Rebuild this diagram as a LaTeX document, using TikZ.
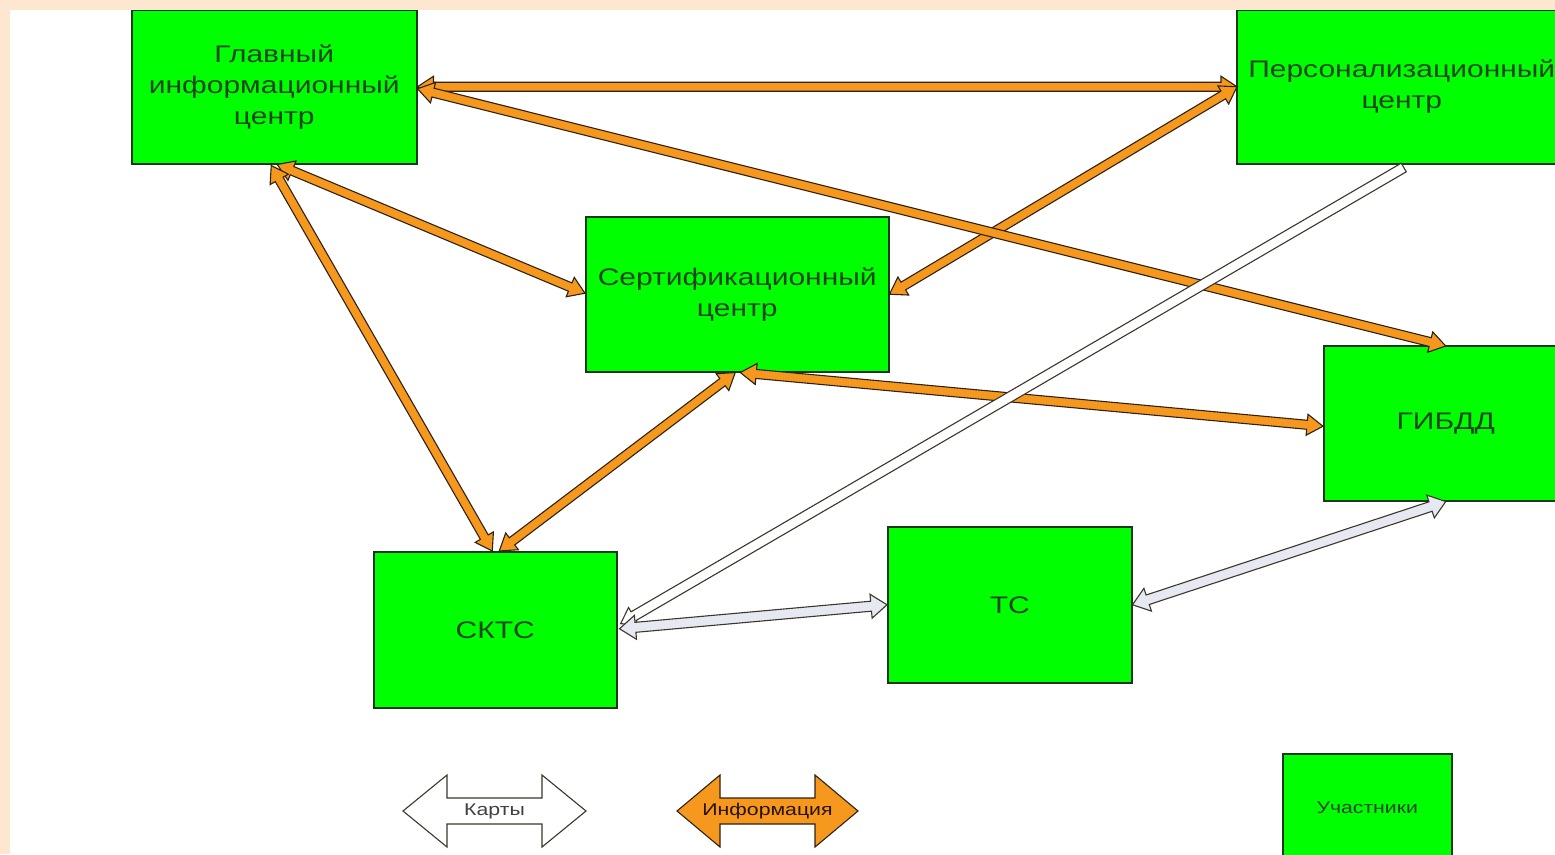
\documentclass[tikz,border=0pt]{standalone}
\usepackage{fontspec}
\newfontfamily\boxfont{Liberation Sans}[FakeStretch=1.25]
\usetikzlibrary{calc}
\definecolor{beige}{RGB}{253,231,208}
\definecolor{boxgreen}{RGB}{0,255,0}
\definecolor{boxline}{RGB}{25,55,25}
\definecolor{txt}{RGB}{30,70,30}
\definecolor{orng}{RGB}{247,152,30}
\definecolor{outl}{RGB}{45,35,20}
\definecolor{lgray}{RGB}{230,233,242}
% #1 style, #2 from, #3 to, #4 shaft half width, #5 head length, #6 head half width
\newcommand\blkdbl[6]{%
\draw[#1] let \p1=($(#3)-(#2)$), \n1={veclen(\x1,\y1)}, \n2={atan2(\y1,\x1)} in
 [shift={(#2)}, rotate=\n2]
 (0pt,0pt) -- (#5pt,#6pt) -- (#5pt,#4pt) -- ({\n1*1pt-#5pt},#4pt) -- ({\n1*1pt-#5pt},#6pt)
 -- ({\n1*1pt},0pt) -- ({\n1*1pt-#5pt},-#6pt) -- ({\n1*1pt-#5pt},-#4pt) -- (#5pt,-#4pt)
 -- (#5pt,-#6pt) -- cycle;}
\newcommand\blksgl[6]{%
\draw[#1] let \p1=($(#3)-(#2)$), \n1={veclen(\x1,\y1)}, \n2={atan2(\y1,\x1)} in
 [shift={(#2)}, rotate=\n2]
 (0pt,-#4pt) -- ({\n1*1pt-#5pt},-#4pt) -- ({\n1*1pt-#5pt},-#6pt) -- ({\n1*1pt},0pt)
 -- ({\n1*1pt-#5pt},#6pt) -- ({\n1*1pt-#5pt},#4pt) -- (0pt,#4pt) -- cycle;}
\tikzset{
 box/.style={draw=boxline, line width=1.5pt, fill=boxgreen, text=txt, align=center,
   inner sep=0pt, anchor=north west, font=\boxfont\fontsize{24}{31}\selectfont},
 orarrow/.style={fill=orng, draw=outl, line width=1.1pt, line join=miter},
 wharrow/.style={fill=lgray, draw=outl!80!gray, line width=1.1pt, line join=miter},
 legtext/.style={font=\boxfont\fontsize{17}{20}\selectfont}
}
\begin{document}
\begin{tikzpicture}[x=1pt,y=-1pt]
\useasboundingbox (0,0) rectangle (1555,854);
\fill[beige] (0,0) rectangle (1555,854);
\fill[white] (10,10) rectangle (1555,854);
\begin{scope}
\clip (10,10) rectangle (1555,854);
% boxes
\node[box, minimum width=285pt, minimum height=154pt] (gic) at (131,9) {Главный\\информационный\\центр};
\node[box, minimum width=330pt, minimum height=154pt] (pc) at (1236,9) {Персонализационный\\центр};
\node[box, minimum width=303pt, minimum height=155pt] (sc) at (585,216) {Сертификационный\\центр};
\node[box, minimum width=244pt, minimum height=155pt] (gibdd) at (1323,345) {ГИБДД};
\node[box, minimum width=243pt, minimum height=156pt] (sktc) at (373,551) {СКТС};
\node[box, minimum width=244pt, minimum height=156pt] (tc) at (887,526) {ТС};
\node[box, minimum width=169pt, minimum height=108pt, font=\boxfont\fontsize{17}{20}\selectfont] (uch) at (1282,753) {Участники};
% endpoints
\coordinate (gicE1) at (gic.east);
\coordinate (gicE2) at ($(gic.east)+(0,2)$);
\coordinate (gicS1) at ($(gic.south)+(-3,1)$);
\coordinate (gicS2) at ($(gic.south)+(3,0)$);
\coordinate (pcW) at ($(pc.west)+(1,0)$);
\coordinate (pcS) at ($(pc.south)+(2,3)$);
\coordinate (scW) at ($(sc.west)+(0,-1)$);
\coordinate (scE) at (sc.east);
\coordinate (scS1) at ($(sc.south)+(-2,0)$);
\coordinate (scS2) at ($(sc.south)+(3,0)$);
\coordinate (gibN) at ($(gibdd.north)+(0,1)$);
\coordinate (gibW) at ($(gibdd.west)+(0,3)$);
\coordinate (gibS) at (gibdd.south);
\coordinate (skN1) at ($(sktc.north)+(-3,0)$);
\coordinate (skN2) at ($(sktc.north)+(4,0)$);
\coordinate (skE1) at ($(sktc.east)+(2,-1)$);
\coordinate (skE2) at ($(sktc.east)+(3,-6)$);
\coordinate (tcW) at (tc.west);
\coordinate (tcE) at (tc.east);
% orange arrows
\blkdbl{orarrow}{gicE1}{pcW}{4.5}{16}{10.5}
\blkdbl{orarrow}{pcW}{scE}{4.5}{16}{10.5}
\blkdbl{orarrow}{gicS2}{scW}{4.5}{16}{10.5}
\blkdbl{orarrow}{gicS1}{skN1}{4.5}{16}{10.5}
\blkdbl{orarrow}{scS1}{skN2}{4.5}{16}{10.5}
\blkdbl{orarrow}{scS2}{gibW}{4.5}{16}{10.5}
\blkdbl{orarrow}{gicE2}{gibN}{4.5}{16}{10.5}
% white arrows
\blksgl{wharrow, fill=white}{pcS}{skE2}{5}{15}{10}
\blkdbl{wharrow}{skE1}{tcW}{5}{16}{12}
\blkdbl{wharrow}{tcE}{gibS}{5}{16}{12}
% legend
\coordinate (kL) at (403,811);
\coordinate (kR) at (586,811);
\coordinate (iL) at (677,811);
\coordinate (iR) at (858,811);
\blkdbl{wharrow, fill=white}{kL}{kR}{13}{44}{36}
\blkdbl{orarrow}{iL}{iR}{13}{43}{36}
\node[legtext, text=black!75] (kt) at ($(kL)!0.5!(kR)$) {Карты};
\node[legtext, text=black!85!orange] (it) at ($(iL)!0.5!(iR)$) {Информация};
\end{scope}
\end{tikzpicture}
\end{document}
